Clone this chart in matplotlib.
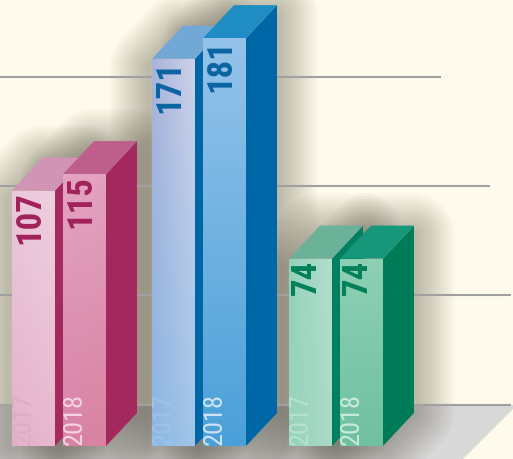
import numpy as np
import matplotlib.pyplot as plt
from matplotlib.patches import Polygon
from matplotlib import patheffects as pe
from matplotlib.colors import to_rgb

# data
years = ['2017', '2018']
values_2017 = [107, 171, 74]
values_2018 = [115, 181, 74]

# colours: front (top-left, top-right, bottom-left, bottom-right), top face, side face
palette = [
    {'2017': (['#ebc8da', '#eecfe0', '#e5b1ca', '#e8b8cf'], '#d294b4', '#a3295f'),
     '2018': (['#e3a4c2', '#e2a2c0', '#d982a8', '#d9829f'], '#bd5e8b', '#a3285e'),
     'text': '#a2225b', 'lab17': '#dbaec4', 'lab18': '#f4d4e3'},
    {'2017': (['#a9b4dc', '#ccd0e8', '#8bb7e3', '#a2c5e9'], '#72a8d6', '#0067a6'),
     '2018': (['#94c3ea', '#94c3ea', '#4ba0d9', '#4ba0d9'], '#1f8cc4', '#0067a6'),
     'text': '#0a64a1', 'lab17': '#9cc3e9', 'lab18': '#cde4f5'},
    {'2017': (['#95d2ba', '#b0dfcd', '#98d3bc', '#a8dac7'], '#6cb299', '#008061'),
     '2018': (['#8ed0b4', '#8ed0b4', '#6fc0a1', '#6fc0a1'], '#17977a', '#007b57'),
     'text': '#008059', 'lab17': '#b6e2d2', 'lab18': '#c9ebdd'},
]

BG = '#fefbec'
FLOOR = '#d9d9d9'
GRID = '#a0a0a0'
SHADOW = '#4a4535'

# layout (pixels across, value units up)
PX = 2.06          # pixels per value unit
ZERO = 412         # pixel row of value 0
H, W = 460, 513
y_top = ZERO / PX
y_bot = -(H - ZERO) / PX
BASE = -(447 - ZERO) / PX
DX = 31
DY = 33 / PX
group_left = [12, 152, 289]
bar_step = 51
bar_w = 43
grid_levels = [162.1, 109.2, 56.3, 3.0]
grid_ends = [441, 490, 511, 511]

FONT = ['Roboto Condensed', 'DejaVu Sans']

fig = plt.figure(figsize=(W / 100, H / 100), dpi=100, facecolor=BG)
ax = fig.add_axes([0, 0, 1, 1])
ax.set_facecolor(BG)
ax.axis('off')


def grad_img(c):
    tl, tr, bl, br = [np.array(to_rgb(x)) for x in c]
    t = np.linspace(0, 1, 64)[:, None, None]
    s = np.linspace(0, 1, 16)[None, :, None]
    top = tl * (1 - s) + tr * s
    bot = bl * (1 - s) + br * s
    return top * (1 - t) + bot * t


# floor
fy = -(406 - ZERO) / PX
ax.add_patch(Polygon([(0, fy), (W, fy), (W, -(410 - ZERO) / PX), (463, y_bot), (0, y_bot)],
                     closed=True, facecolor=FLOOR, edgecolor='none', zorder=0.5))

# soft shadow halo around each bar, a little lower than the bar
halo = [pe.Stroke(linewidth=w, foreground=SHADOW, alpha=0.026, joinstyle='round')
        for w in range(58, 2, -4)]
sy = 8 / PX
for g, x0 in enumerate(group_left):
    for k, v in enumerate([values_2017[g], values_2018[g]]):
        xl = x0 + k * bar_step - 2
        xr = xl + bar_w + 2
        sil = [(xl, BASE), (xl, v - sy), (xl + DX, v + DY - sy), (xr + DX, v + DY - sy),
               (xr + DX, BASE + DY), (xr, BASE)]
        ax.add_patch(Polygon(sil, closed=True, facecolor='none', edgecolor=SHADOW,
                             path_effects=halo, zorder=1))

# gridlines
for lev, xe in zip(grid_levels, grid_ends):
    ax.hlines(lev, 0, xe, color=GRID, linewidth=1.5, zorder=2)

z = 3
for g, x0 in enumerate(group_left):
    pal = palette[g]
    for k, (yr, v) in enumerate(zip(years, [values_2017[g], values_2018[g]])):
        front, topc, sidec = pal[yr]
        xl = x0 + k * bar_step
        xr = xl + bar_w
        ax.add_patch(Polygon([(xr, BASE), (xr, v), (xr + DX, v + DY), (xr + DX, BASE + DY)],
                             closed=True, facecolor=sidec, edgecolor='none', zorder=z))
        ax.add_patch(Polygon([(xl, v), (xl + DX, v + DY), (xr + DX, v + DY), (xr, v)],
                             closed=True, facecolor=topc, edgecolor='none', zorder=z))
        bar = ax.bar(xl, v - BASE, bottom=BASE, width=bar_w, align='edge',
                     color=front[0], edgecolor='none', zorder=z + 0.1)[0]
        im = ax.imshow(grad_img(front), extent=(xl, xr, BASE, v), aspect='auto',
                       interpolation='bilinear', zorder=z + 0.2)
        im.set_clip_path(bar)
        ax.text(xl + 1, v, str(v), rotation=90, rotation_mode='anchor', ha='right', va='top',
                fontsize=25, fontweight='bold', family=FONT, color=pal['text'], zorder=z + 0.5)
        ax.text(xl, BASE + 1.2, yr, rotation=90, rotation_mode='anchor', ha='left', va='top',
                fontsize=19, family=FONT, color=pal['lab17' if k == 0 else 'lab18'], zorder=z + 0.5)
        z += 1

ax.set_xlim(0, W)
ax.set_ylim(y_bot, y_top)
fig.savefig('out.png', dpi=100, facecolor=BG)
